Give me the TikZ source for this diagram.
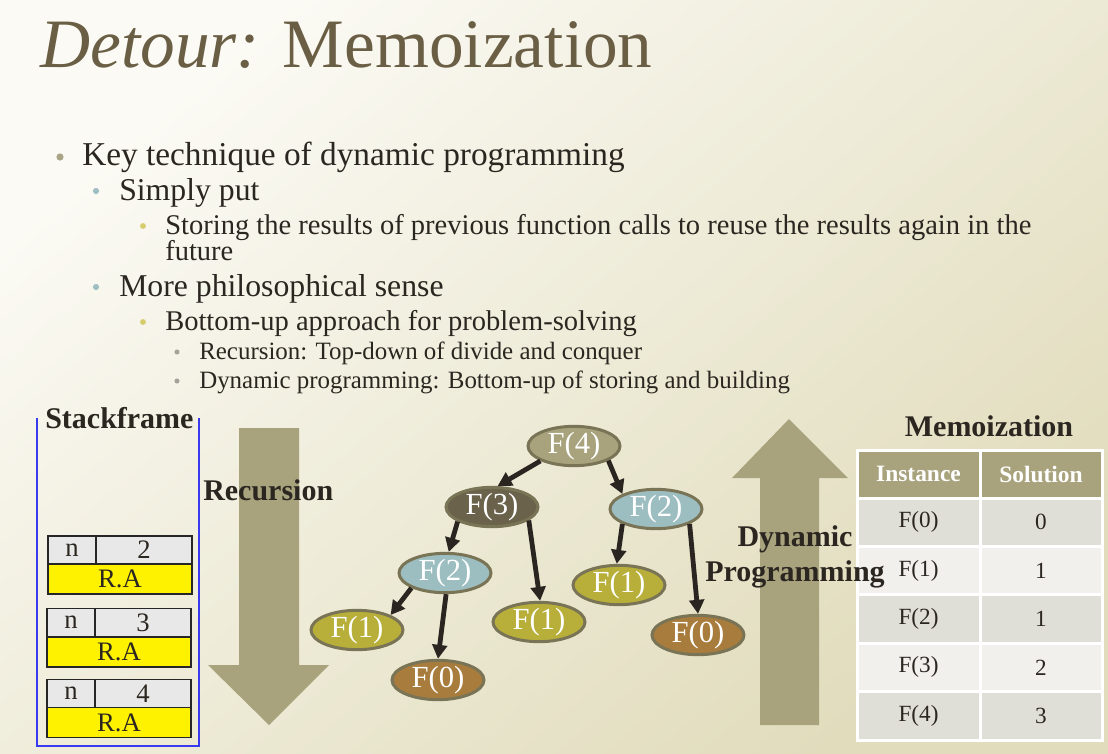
\documentclass[tikz,border=0pt]{standalone}
\usepackage{fontspec}
\setmainfont{Liberation Serif}
\usetikzlibrary{shapes.geometric,arrows.meta}
\newcommand\mytightlines{\lineskiplimit=-30pt\relax\lineskip=0pt\relax}
\definecolor{bgA}{HTML}{FBFAF4}
\definecolor{bgD}{HTML}{E1DCBC}
\definecolor{titlecol}{HTML}{6A5E45}
\definecolor{txt}{HTML}{2B2620}
\definecolor{bulA}{HTML}{A9A688}
\definecolor{bulB}{HTML}{9DBFC4}
\definecolor{bulC}{HTML}{D6CC6B}
\definecolor{bulD}{HTML}{A3A39B}
\definecolor{olive}{HTML}{A8A37D}
\definecolor{darkbr}{HTML}{6B624B}
\definecolor{lblue}{HTML}{9DBEC1}
\definecolor{oyel}{HTML}{B8AF3A}
\definecolor{brown}{HTML}{A87C3C}
\definecolor{ellb}{HTML}{7A7456}
\definecolor{arrc}{HTML}{2A2520}
\definecolor{rowA}{HTML}{E0DFD7}
\definecolor{rowB}{HTML}{F1F0EC}
\definecolor{cellgrey}{HTML}{E8E8E8}
\definecolor{frameblue}{HTML}{3A3AF0}
\tikzset{
  titletext/.style={anchor=base west, inner sep=0, text=titlecol, font=\fontsize{52}{52}\selectfont},
  lone/.style={anchor=base west, inner sep=0, text=txt, font=\fontsize{25}{30}\selectfont},
  ltwo/.style={anchor=base west, inner sep=0, text=txt, font=\fontsize{23.8}{28}\selectfont},
  lthree/.style={anchor=base west, inner sep=0, text=txt, align=left, font=\fontsize{21.4}{19.5}\selectfont\mytightlines},
  lfour/.style={anchor=base west, inner sep=0, text=txt, font=\fontsize{18.7}{22}\selectfont},
  blabel/.style={inner sep=0, text=txt, font=\bfseries\fontsize{22.5}{26}\selectfont},
  fnode/.style={ellipse, draw=ellb, line width=2.25pt, minimum width=69pt, minimum height=26pt, inner sep=0, text=white, font=\fontsize{23}{23}\selectfont},
  arr/.style={draw=arrc, line width=3.6pt, -{Triangle[length=10.5pt,width=11pt]}},
  bigarrow/.style={fill=olive},
  tcell/.style={draw=white, line width=2.25pt, inner sep=0, text=txt, font=\fontsize{17.4}{20}\selectfont},
  thead/.style={tcell, fill=olive, text=white, font=\bfseries\fontsize{17.6}{20}\selectfont},
  scell/.style={draw=black!85, line width=1.1pt, inner sep=0, text=txt, minimum height=21pt, font=\fontsize{20}{20}\selectfont},
}
\begin{document}
\begin{tikzpicture}[x=0.75pt,y=-0.75pt]
\useasboundingbox (0,0) rectangle (1108,754);
\shade[top color=bgA, bottom color=bgD, shading angle=40] (0,0) rectangle (1108,754);

% title
\node[titletext] (title) at (40,67) {\textit{Detour:} Memoization};

% bullets
\fill[bulA] (60,157) circle (2.7pt);
\node[lone] (b1) at (82,165) {Key technique of dynamic programming};
\fill[bulB] (96,191) circle (2.3pt);
\node[ltwo] (b2) at (119,200) {Simply put};
\fill[bulC] (143,226) circle (2.2pt);
\node[lthree] (b3) at (165,260) {Storing the results of previous function calls to reuse the results again in the\\future};
\fill[bulB] (96,287) circle (2.3pt);
\node[ltwo] (b4) at (119,296) {More philosophical sense};
\fill[bulC] (143,322) circle (2.2pt);
\node[lthree] (b5) at (165,330) {Bottom-up approach for problem-solving};
\fill[bulD] (177,352) circle (1.9pt);
\node[lfour] (b6) at (199,359) {Recursion: Top-down of divide and conquer};
\fill[bulD] (177,381) circle (1.9pt);
\node[lfour] (b7) at (199,388) {Dynamic programming: Bottom-up of storing and building};

% stackframe
\draw[frameblue, line width=0.8pt] (37,418) -- (37,746) -- (199,746) -- (199,418);
\node[blabel, anchor=base west] (sf) at (45,428) {Stackframe};
\node[scell, fill=cellgrey, minimum width=36pt] (n1) at (72,550) {n};
\node[scell, fill=cellgrey, minimum width=72pt] (v1) at (144,550) {2};
\node[scell, fill=yellow, minimum width=108pt, minimum height=22.5pt] (r1) at (120,579) {R.A};
\node[scell, fill=cellgrey, minimum width=36pt] (n2) at (71,622.5) {n};
\node[scell, fill=cellgrey, minimum width=72pt] (v2) at (143,622.5) {3};
\node[scell, fill=yellow, minimum width=108pt, minimum height=22.5pt] (r2) at (119,652) {R.A};
\node[scell, fill=cellgrey, minimum width=36pt] (n3) at (71,693.5) {n};
\node[scell, fill=cellgrey, minimum width=72pt] (v3) at (143,693.5) {4};
\node[scell, fill=yellow, minimum width=108pt, minimum height=22.5pt] (r3) at (119,722.5) {R.A};

% big arrows
\fill[bigarrow] (239,428) -- (299,428) -- (299,665) -- (329,665) -- (269,725) -- (208,665) -- (239,665) -- cycle;
\fill[bigarrow] (760,725) -- (819,725) -- (819,478) -- (848,478) -- (789,419) -- (732,478) -- (760,478) -- cycle;
\node[blabel, anchor=base west] (rec) at (203,500) {Recursion};

% tree
\node[fnode, fill=olive] (f4) at (574,446) {F(4)};
\node[fnode, fill=darkbr] (f3) at (492,507) {F(3)};
\node[fnode, fill=lblue] (f2r) at (656,509) {F(2)};
\node[fnode, fill=lblue] (f2l) at (445,573) {F(2)};
\node[fnode, fill=oyel] (f1a) at (619,585) {F(1)};
\node[fnode, fill=oyel] (f1b) at (539,622) {F(1)};
\node[fnode, fill=oyel] (f1c) at (357,630) {F(1)};
\node[fnode, fill=brown] (f0a) at (438,680) {F(0)};
\node[fnode, fill=brown] (f0b) at (698,635) {F(0)};
\draw[arr] (f4.204) -- (f3.75);
\draw[arr] (f4.-23) -- (f2r.156);
\draw[arr] (f3.203) -- (f2l.80);
\draw[arr] (f3.-20) -- (f1b.87);
\draw[arr] (f2r.204) -- (f1a.96);
\draw[arr] (f2r.-24) -- (f0b.90);
\draw[arr] (f2l.204) -- (f1c.24);
\draw[arr] (f2l.-87) -- (f0a.90);

% memo table
\node[blabel, anchor=base] (mt) at (989,436) {Memoization};
\node[thead, minimum width=92.25pt, minimum height=36pt] (h1) at (918.5,474) {Instance};
\node[thead, minimum width=91.5pt, minimum height=36pt] (h2) at (1041,474) {Solution};
\node[tcell, fill=rowA, minimum width=92.25pt, minimum height=36.3pt] (a1) at (918.5,522.2) {F(0)};
\node[tcell, fill=rowA, minimum width=91.5pt, minimum height=36.3pt] (s1) at (1041,522.2) {0};
\node[tcell, fill=rowB, minimum width=92.25pt, minimum height=36.3pt] (a2) at (918.5,570.6) {F(1)};
\node[tcell, fill=rowB, minimum width=91.5pt, minimum height=36.3pt] (s2) at (1041,570.6) {1};
\node[tcell, fill=rowA, minimum width=92.25pt, minimum height=36.3pt] (a3) at (918.5,619) {F(2)};
\node[tcell, fill=rowA, minimum width=91.5pt, minimum height=36.3pt] (s3) at (1041,619) {1};
\node[tcell, fill=rowB, minimum width=92.25pt, minimum height=36.3pt] (a4) at (918.5,667.4) {F(3)};
\node[tcell, fill=rowB, minimum width=91.5pt, minimum height=36.3pt] (s4) at (1041,667.4) {2};
\node[tcell, fill=rowA, minimum width=92.25pt, minimum height=36.3pt] (a5) at (918.5,715.8) {F(4)};
\node[tcell, fill=rowA, minimum width=91.5pt, minimum height=36.3pt] (s5) at (1041,715.8) {3};

% label drawn over arrow and table
\node[blabel, align=center, font=\bfseries\fontsize{22.5}{26}\selectfont] (dp) at (795,557) {Dynamic\\Programming};
\end{tikzpicture}
\end{document}
